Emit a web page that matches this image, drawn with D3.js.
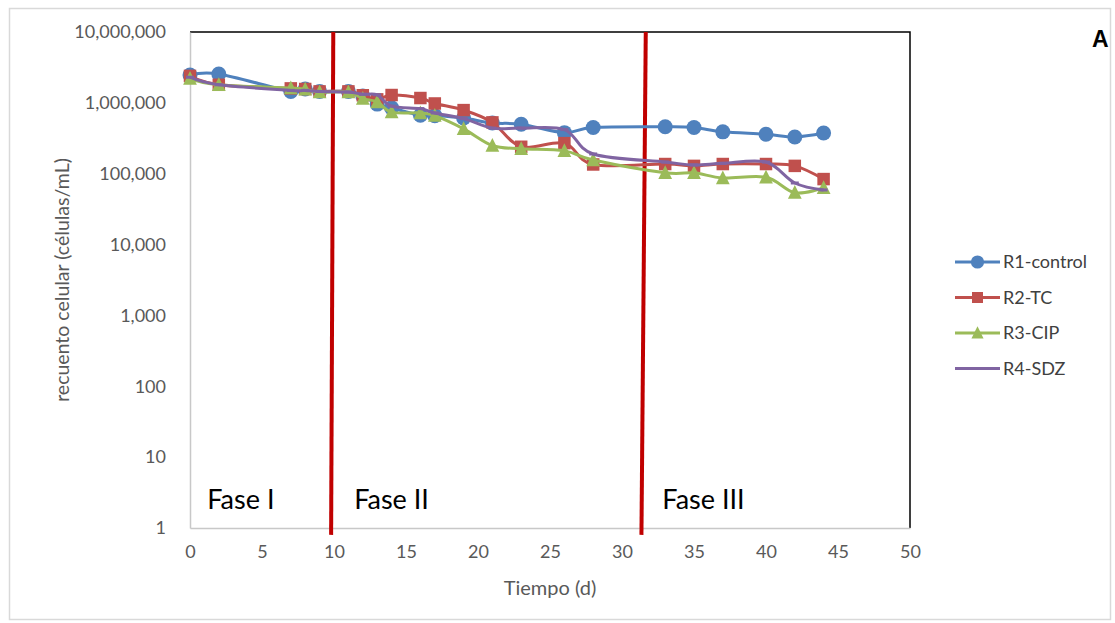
<!DOCTYPE html>
<html>
<head>
<meta charset="utf-8">
<script src="https://cdn.jsdelivr.net/npm/d3@7"></script>
<style>
  body { margin: 0; background: #fff; }
  text { font-family: Lato, "Open Sans", sans-serif; }
</style>
</head>
<body>
<div id="chart"></div>
<script>
// data (days, cells/mL)
var dias = [0, 2, 7, 8, 9, 11, 12, 13, 14, 16, 17, 19, 21, 23, 26, 28, 33, 35, 37, 40, 42, 44];
var r1 = [2.47e6, 2.55e6, 1.45e6, 1.57e6, 1.45e6, 1.45e6, 1.25e6, 9.6e5, 8.5e5, 6.7e5, 6.6e5, 6.1e5, 5.2e5, 5.0e5, 3.8e5, 4.5e5, 4.6e5, 4.5e5, 3.9e5, 3.6e5, 3.3e5, 3.75e5];
var r2 = [2.4e6, 1.8e6, 1.6e6, 1.57e6, 1.45e6, 1.45e6, 1.28e6, 1.12e6, 1.29e6, 1.17e6, 9.8e5, 7.9e5, 5.3e5, 2.4e5, 2.7e5, 1.35e5, 1.37e5, 1.29e5, 1.37e5, 1.37e5, 1.29e5, 8.4e4];
var r3 = [2.2e6, 1.8e6, 1.62e6, 1.55e6, 1.42e6, 1.42e6, 1.15e6, 1.03e6, 7.4e5, 7.2e5, 6.6e5, 4.3e5, 2.5e5, 2.25e5, 2.1e5, 1.56e5, 1.03e5, 1.03e5, 8.7e4, 8.9e4, 5.4e4, 6.3e4];
var r4 = [2.3e6, 1.8e6, 1.5e6, 1.5e6, 1.45e6, 1.42e6, 1.32e6, 1.3e6, 9.0e5, 8.3e5, 7.2e5, 6.0e5, 4.4e5, 4.4e5, 4.2e5, 1.9e5, 1.46e5, 1.33e5, 1.4e5, 1.46e5, 7.4e4, 5.9e4];

var nombres = ["R1-control", "R2-TC", "R3-CIP", "R4-SDZ"];
var colores = ["#4f81bd", "#c0504d", "#9bbb59", "#8064a2"];
var marcadores = ["circle", "square", "triangle", "dash"];

var xTicks = [0, 5, 10, 15, 20, 25, 30, 35, 40, 45, 50];
var yTicks = [1, 10, 100, 1000, 10000, 100000, 1000000, 10000000];

// phase separators: [x at top, x at bottom] in days
var fases = [[9.95, 9.8], [31.65, 31.35]];
var faseLabels = [["Fase I", 1.2], ["Fase II", 11.4], ["Fase III", 32.8]];

var series = [r1, r2, r3, r4].map(function(vals, i) {
  return {
    name: nombres[i],
    color: colores[i],
    marker: marcadores[i],
    values: dias.map(function(d, j) { return { x: d, y: vals[j] }; })
  };
});

var W = 1115, H = 623;
var margin = { top: 32, right: 205, bottom: 95, left: 190 },
  width = W - margin.left - margin.right,
  height = H - margin.top - margin.bottom;

var root = d3.select("#chart")
  .append("svg")
  .attr("width", W)
  .attr("height", H);

// outer frame
root.append("rect")
  .attr("x", 9.5).attr("y", 8.5)
  .attr("width", 1101).attr("height", 611)
  .attr("fill", "#fff")
  .attr("stroke", "#d9d9d9")
  .attr("stroke-width", 1.5);

var svg = root.append("g")
  .attr("transform", "translate(" + margin.left + "," + margin.top + ")");

var x = d3.scaleLinear().domain([0, 50]).range([0, width]);
var y = d3.scaleLog().domain([1, 1e7]).range([height, 0]);

// plot frame (top and right in black)
svg.append("path")
  .attr("d", "M0," + y(1e7) + "H" + x(50) + "V" + y(1))
  .attr("fill", "none")
  .attr("stroke", "#000")
  .attr("stroke-width", 1.5);

// axes
var xAxis = svg.append("g")
  .attr("transform", "translate(0," + height + ")")
  .call(d3.axisBottom(x).tickValues(xTicks).tickSize(0).tickPadding(17));
var yAxis = svg.append("g")
  .call(d3.axisLeft(y).tickValues(yTicks).tickSize(0).tickPadding(24).tickFormat(d3.format(",")));

[xAxis, yAxis].forEach(function(a) {
  a.select(".domain").attr("stroke", "#c8c8c8").attr("stroke-width", 1.5);
  a.selectAll("text")
    .attr("fill", "#595959")
    .style("font-family", "Lato, sans-serif")
    .style("font-size", "18px");
});

// phase lines
svg.selectAll(".fase")
  .data(fases)
  .enter()
  .append("line")
  .attr("x1", function(d) { return x(d[0]); })
  .attr("x2", function(d) { return x(d[1]); })
  .attr("y1", y(1e7))
  .attr("y2", y(0.8))
  .attr("stroke", "#c00000")
  .attr("stroke-width", 4);

svg.selectAll(".faseLabel")
  .data(faseLabels)
  .enter()
  .append("text")
  .attr("x", function(d) { return x(d[1]); })
  .attr("y", y(1) - 19)
  .attr("fill", "#000")
  .style("font-size", "27px")
  .text(function(d) { return d[0]; });

// lines
var line = d3.line()
  .x(function(d) { return x(d.x); })
  .y(function(d) { return y(d.y); })
  .curve(d3.curveCardinal.tension(0));

function drawMarker(g, type, color, size) {
  if (type == "circle") {
    g.append("circle").attr("r", size * 0.6).attr("fill", color);
  } else if (type == "square") {
    g.append("rect")
      .attr("x", -size / 2).attr("y", -size / 2)
      .attr("width", size).attr("height", size)
      .attr("fill", color);
  } else if (type == "triangle") {
    var s = size * 1.1;
    g.append("path")
      .attr("d", "M0," + (-s * 0.55) + "L" + (s / 2) + "," + (s * 0.45) + "L" + (-s / 2) + "," + (s * 0.45) + "Z")
      .attr("fill", color);
  } else {
    g.append("rect")
      .attr("x", -4).attr("y", -1.5)
      .attr("width", 8).attr("height", 3)
      .attr("fill", color);
  }
}

series.forEach(function(s) {
  svg.append("path")
    .datum(s.values)
    .attr("fill", "none")
    .attr("stroke", s.color)
    .attr("stroke-width", 3)
    .attr("d", line);

  svg.selectAll(null)
    .data(s.values)
    .enter()
    .append("g")
    .attr("transform", function(d) { return "translate(" + x(d.x) + "," + y(d.y) + ")"; })
    .each(function() { drawMarker(d3.select(this), s.marker, s.color, 12.5); });
});

// axis titles
svg.append("text")
  .attr("x", width / 2)
  .attr("y", height + 67)
  .style("text-anchor", "middle")
  .style("font-size", "20px")
  .attr("fill", "#595959")
  .text("Tiempo (d)");

svg.append("text")
  .attr("transform", "rotate(-90)")
  .attr("x", -height / 2)
  .attr("y", -121)
  .style("text-anchor", "middle")
  .style("font-size", "19.5px")
  .attr("fill", "#595959")
  .text("recuento celular (células/mL)");

// legend
var legend = root.append("g").attr("transform", "translate(955,262)");
series.forEach(function(s, i) {
  var row = legend.append("g").attr("transform", "translate(0," + (i * 35.5) + ")");
  row.append("line")
    .attr("x1", 0).attr("x2", 45)
    .attr("stroke", s.color)
    .attr("stroke-width", 3);
  var m = row.append("g").attr("transform", "translate(22.5,0)");
  drawMarker(m, s.marker, s.color, 11);
  row.append("text")
    .attr("x", 48)
    .attr("dy", "0.35em")
    .attr("fill", "#404040")
    .style("font-size", "18px")
    .text(s.name);
});

// panel letter
root.append("text")
  .attr("x", 1092)
  .attr("y", 47)
  .style("font-family", "'Liberation Sans', Arial, sans-serif")
  .style("font-weight", "bold")
  .style("font-size", "23px")
  .attr("fill", "#000")
  .text("A");
</script>
</body>
</html>
